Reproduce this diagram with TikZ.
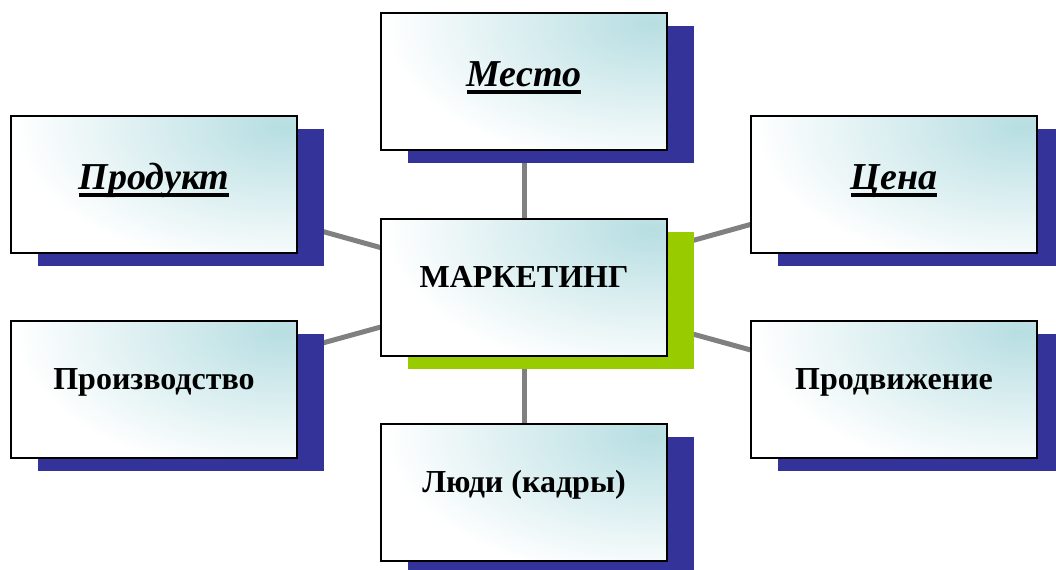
\documentclass[tikz,border=0pt]{standalone}
\usepackage{fontspec}
\setmainfont{Liberation Serif}
\usetikzlibrary{shadows,backgrounds}
\definecolor{shblue}{RGB}{51,51,153}
\definecolor{shgreen}{RGB}{153,204,0}
\definecolor{boxteal}{RGB}{183,222,226}
\definecolor{linkgray}{RGB}{128,128,128}
\newcommand\ulbox[1]{\setbox0\hbox{#1}\rlap{\rule[-6pt]{\wd0}{3pt}}\box0}
\begin{document}
\begin{tikzpicture}[x=0.75pt,y=-0.75pt,
  card/.style={draw=black, line width=1.5pt, rectangle,
    minimum width=214.5pt, minimum height=102.75pt, inner sep=0pt,
    general shadow={fill=#1, shadow xshift=20.25pt, shadow yshift=-9.75pt},
    path picture={
      \fill[white] (path picture bounding box.south west) rectangle (path picture bounding box.north east);
      \shade[inner color=boxteal, outer color=white] ([xshift=-12pt,yshift=-8pt]path picture bounding box.north east) ellipse (200pt and 108pt);}},
  card/.default=shblue,
  lbl/.style={anchor=base, inner sep=0pt, font=\fontsize{24}{28}\selectfont\bfseries},
  ulbl/.style={anchor=base, inner sep=0pt, yshift=-3.4pt, font=\fontsize{28.5}{32}\selectfont\bfseries\itshape},
  link/.style={draw=linkgray, line width=3.75pt}]
\useasboundingbox (0,0) rectangle (1056,569);

\node[card] (mesto)  at (524,81.5)  {};
\node[card] (prod)   at (154,184.5) {};
\node[card] (cena)   at (894,184.5) {};
\node[card=shgreen] (mark) at (524,287.5) {};
\node[card] (proizv) at (154,389.5) {};
\node[card] (prodv)  at (894,389.5) {};
\node[card] (ludi)   at (524,492.5) {};

\node[ulbl] (tmesto)  at (mesto.center)  {\ulbox{Место}};
\node[ulbl] (tprod)   at (prod.center)   {\ulbox{Продукт}};
\node[ulbl] (tcena)   at (cena.center)   {\ulbox{Цена}};
\node[lbl]  (tmark)   at (mark.center)   {МАРКЕТИНГ};
\node[lbl]  (tproizv) at (proizv.center) {Производство};
\node[lbl]  (tprodv)  at (prodv.center)  {Продвижение};
\node[lbl]  (tludi)   at (ludi.center)   {Люди (кадры)};

\begin{pgfonlayer}{background}
\fill[white] (0,0) rectangle (1056,569);
\draw[link] (mark.center) -- (mesto.center);
\draw[link] (mark.center) -- (prod.center);
\draw[link] (mark.center) -- (cena.center);
\draw[link] (mark.center) -- (proizv.center);
\draw[link] (mark.center) -- (prodv.center);
\draw[link] (mark.center) -- (ludi.center);
\end{pgfonlayer}
\end{tikzpicture}
\end{document}
